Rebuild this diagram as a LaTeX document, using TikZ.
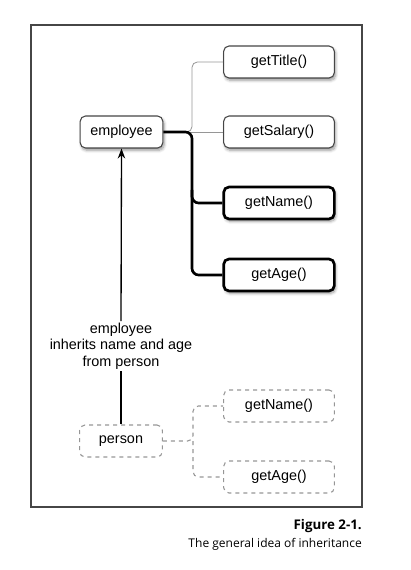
\documentclass[tikz,border=0pt]{standalone}
\usepackage{fontspec}
\setmainfont{Liberation Sans}
\newfontfamily\capfont{Open Sans}
\usepackage{tikz}
\usetikzlibrary{arrows.meta,shadows.blur}
\definecolor{linegray}{RGB}{150,150,150}
\definecolor{boxgray}{RGB}{70,70,70}

\tikzset{
  method/.style={draw=boxgray,line width=0.8pt,rounded corners=4pt,fill=white,
    minimum width=83pt,minimum height=24pt,font=\fontsize{10.8}{13}\selectfont,
    blur shadow={shadow xshift=1pt,shadow yshift=-1.8pt,shadow blur steps=6,shadow opacity=40}},
  boldmethod/.style={method,draw=black,line width=2pt},
  ghost/.style={draw=linegray,dashed,line width=0.8pt,rounded corners=4pt,
    minimum width=83pt,minimum height=24pt,font=\fontsize{10.8}{13}\selectfont},
  thinlink/.style={draw=linegray,line width=0.6pt,rounded corners=4pt},
  boldlink/.style={draw=black,line width=2pt,rounded corners=5pt},
  ghostlink/.style={draw=linegray,dashed,line width=0.8pt,rounded corners=4pt}
}

\begin{document}
\begin{tikzpicture}[>=Stealth,x=0.75pt,y=-0.75pt]
    % 画布与外框
    \useasboundingbox (0,0) rectangle (410,570);
    \draw[boxgray,line width=0.9pt] (31,25) rectangle (362,507);

    % 分叉点横坐标
    \def\jx{192}

    % employee 及其方法
    \node[method,minimum width=62pt] (employee) at (121.5,132) {employee};
    \node[method] (title) at (279,62) {getTitle()};
    \node[method] (salary) at (279,132) {getSalary()};
    \node[boldmethod] (name) at (279,203) {getName()};
    \node[boldmethod] (age) at (279,275) {getAge()};

    % person 及其方法（虚线）
    \node[ghost,minimum width=62pt] (person) at (121,441) {person};
    \node[ghost] (pname) at (279,406) {getName()};
    \node[ghost] (page) at (279,477) {getAge()};

    % employee 的连线
    \draw[thinlink] (employee.east) -- (\jx,132) |- (title.west);
    \draw[thinlink] (employee.east) -- (salary.west);
    \draw[boldlink] (employee.east) -| (\jx,203) -- (name.west);
    \draw[boldlink] (\jx,190) |- (age.west);

    % person 的连线
    \draw[ghostlink] (person.east) -- (193,441) |- (pname.west);
    \draw[ghostlink] (193,441) |- (page.west);

    % 继承关系
    \node[align=center,fill=white,inner sep=1pt,font=\fontsize{10.8}{12.4}\selectfont] (inherit) at (121,346)
        {employee\\inherits name and age\\from person};
    \draw[line width=1pt] (person.north) -- (inherit.south);
    \draw[->,line width=1pt] (inherit.north) -- (employee.south);

    % 图题
    \node[anchor=south east,inner sep=0pt,font=\capfont\bfseries\fontsize{10}{12}\selectfont] (fig) at (362,533) {Figure 2-1.};
    \node[anchor=north east,inner sep=0pt,font=\capfont\fontsize{9}{11}\selectfont] (cap) at (362,538) {The general idea of inheritance};
\end{tikzpicture}
\end{document}
